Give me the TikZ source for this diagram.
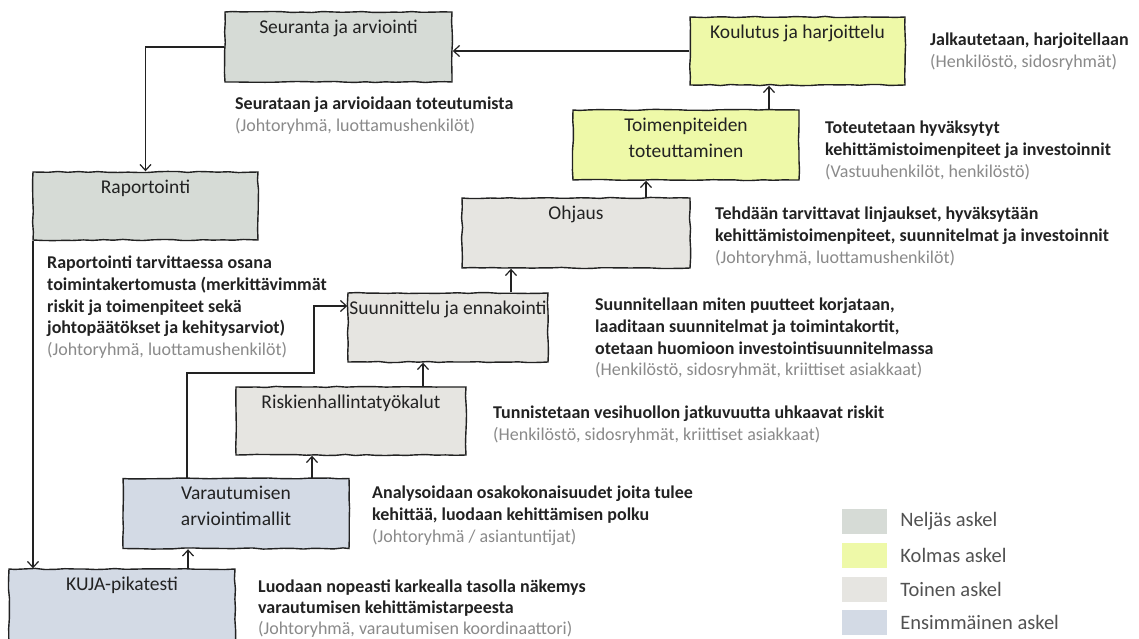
\documentclass[tikz,border=0pt]{standalone}
\usepackage{fontspec}
\setmainfont{Carlito}
\usetikzlibrary{arrows.meta,decorations.pathmorphing}
\definecolor{stepfour}{HTML}{D6DBD6}
\definecolor{stepthree}{HTML}{EEF9A8}
\definecolor{steptwo}{HTML}{E6E5E1}
\definecolor{stepone}{HTML}{D3DAE5}
\definecolor{inkdark}{HTML}{222222}
\definecolor{inkgrey}{HTML}{8A8A8A}
\begin{document}
\begin{tikzpicture}[x=1pt,y=-1pt,
  box/.style={draw=inkdark, line width=1.4pt, decorate,
    decoration={random steps,segment length=10pt,amplitude=0.6pt},
    inner sep=0pt},
  boxtitle/.style={anchor=north, yshift=-5pt, align=center,
    font=\fontsize{19.5}{26}\selectfont, text=inkdark},
  desc/.style={anchor=north west, inner sep=0pt, align=left,
    font=\fontsize{18}{21.6}\selectfont\bfseries, text=inkdark},
  arr/.style={draw=inkdark, line width=1.2pt, -{Straight Barb[length=6pt,width=11pt]}},
  legsq/.style={minimum width=45pt, minimum height=25pt, inner sep=0pt},
  legtext/.style={anchor=west, inner sep=0pt, font=\fontsize{20.5}{24}\selectfont, text=black!68},
]
\pgfmathsetseed{11}
\clip (0,0) rectangle (1139,639);
\fill[white] (0,0) rectangle (1139,639);

% step boxes
\node[box, fill=stepfour, minimum width=227pt, minimum height=70pt,
  label={[boxtitle]north:Seuranta ja arviointi}] (seur) at (338.5,47) {};
\node[box, fill=stepthree, minimum width=215pt, minimum height=68pt,
  label={[boxtitle]north:Koulutus ja harjoittelu}] (koul) at (797.5,51) {};
\node[box, fill=stepfour, minimum width=225pt, minimum height=68pt,
  label={[boxtitle]north:Raportointi}] (rap) at (145.5,206) {};
\node[box, fill=stepthree, minimum width=226pt, minimum height=70pt,
  label={[boxtitle]north:Toimenpiteiden\\toteuttaminen}] (toim) at (686,145) {};
\node[box, fill=steptwo, minimum width=228pt, minimum height=70pt,
  label={[boxtitle]north:Ohjaus}] (ohj) at (576,233) {};
\node[box, fill=steptwo, minimum width=200pt, minimum height=69pt,
  label={[boxtitle]north:Suunnittelu ja ennakointi}] (suun) at (448,327.5) {};
\node[box, fill=steptwo, minimum width=230pt, minimum height=68pt,
  label={[boxtitle]north:Riskienhallintatyökalut}] (risk) at (351,421) {};
\node[box, fill=stepone, minimum width=226pt, minimum height=70pt,
  label={[boxtitle]north:Varautumisen\\arviointimallit}] (var) at (236,513.5) {};
\node[box, fill=stepone, minimum width=226pt, minimum height=80pt,
  label={[boxtitle]north:KUJA-pikatesti}] (kuja) at (122,609) {};

% connectors
\draw[arr] (koul.west) -- (koul.west -| seur.east);
\draw[arr] (seur.west) -| (rap.north);
\draw[arr] (toim.north -| 769,0) -- (koul.south -| 769,0);
\draw[arr] (ohj.north -| 646,0) -- (toim.south -| 646,0);
\draw[arr] (suun.north -| 511,0) -- (ohj.south -| 511,0);
\draw[arr] (risk.north -| 423,0) -- (suun.south -| 423,0);
\draw[arr] (var.north -| 312,0) -- (risk.south -| 312,0);
\draw[arr] (kuja.north -| 188,0) -- (var.south -| 188,0);
\draw[arr] (rap.south -| 33,0) -- (kuja.north -| 33,0);
\coordinate (bendA) at (187,373);
\coordinate (bendB) at (314,306);
\draw[arr] (var.north -| bendA) -- (bendA) -| (bendB) -- (bendB -| suun.west);

% descriptions
\node[desc] (dseur) at (235,97) {Seurataan ja arvioidaan toteutumista\\
  {\color{inkgrey}\mdseries (Johtoryhmä, luottamushenkilöt)}};
\node[desc] (dkoul) at (930,33) {Jalkautetaan, harjoitellaan\\
  {\color{inkgrey}\mdseries (Henkilöstö, sidosryhmät)}};
\node[desc] (dtoim) at (825,121) {Toteutetaan hyväksytyt\\
  kehittämistoimenpiteet ja investoinnit\\
  {\color{inkgrey}\mdseries (Vastuuhenkilöt, henkilöstö)}};
\node[desc] (dohj) at (715,207) {Tehdään tarvittavat linjaukset, hyväksytään\\
  kehittämistoimenpiteet, suunnitelmat ja investoinnit\\
  {\color{inkgrey}\mdseries (Johtoryhmä, luottamushenkilöt)}};
\node[desc] (drap) at (47,256) {Raportointi tarvittaessa osana\\
  toimintakertomusta (merkittävimmät\\
  riskit ja toimenpiteet sekä\\
  johtopäätökset ja kehitysarviot)\\
  {\color{inkgrey}\mdseries (Johtoryhmä, luottamushenkilöt)}};
\node[desc] (dsuun) at (595,298) {Suunnitellaan miten puutteet korjataan,\\
  laaditaan suunnitelmat ja toimintakortit,\\
  otetaan huomioon investointisuunnitelmassa\\
  {\color{inkgrey}\mdseries (Henkilöstö, sidosryhmät, kriittiset asiakkaat)}};
\node[desc] (drisk) at (493,406) {Tunnistetaan vesihuollon jatkuvuutta uhkaavat riskit\\
  {\color{inkgrey}\mdseries (Henkilöstö, sidosryhmät, kriittiset asiakkaat)}};
\node[desc] (dvar) at (372,486) {Analysoidaan osakokonaisuudet joita tulee\\
  kehittää, luodaan kehittämisen polku\\
  {\color{inkgrey}\mdseries (Johtoryhmä / asiantuntijat)}};
\node[desc, font=\fontsize{18}{21}\selectfont\bfseries] (dkuja) at (258,580) {Luodaan nopeasti karkealla tasolla näkemys\\
  varautumisen kehittämistarpeesta\\
  {\color{inkgrey}\mdseries (Johtoryhmä, varautumisen koordinaattori)}};

% legend
\node[legsq, fill=stepfour]  (lfour)  at (864.5,521.5) {};
\node[legsq, fill=stepthree] (lthree) at (864.5,555.5) {};
\node[legsq, fill=steptwo]   (ltwo)   at (864.5,589.5) {};
\node[legsq, fill=stepone]   (lone)   at (864.5,622.5) {};
\node[legtext] at ([xshift=13pt]lfour.east)  {Neljäs askel};
\node[legtext] at ([xshift=13pt]lthree.east) {Kolmas askel};
\node[legtext] at ([xshift=13pt]ltwo.east)   {Toinen askel};
\node[legtext] at ([xshift=13pt]lone.east)   {Ensimmäinen askel};
\end{tikzpicture}
\end{document}
